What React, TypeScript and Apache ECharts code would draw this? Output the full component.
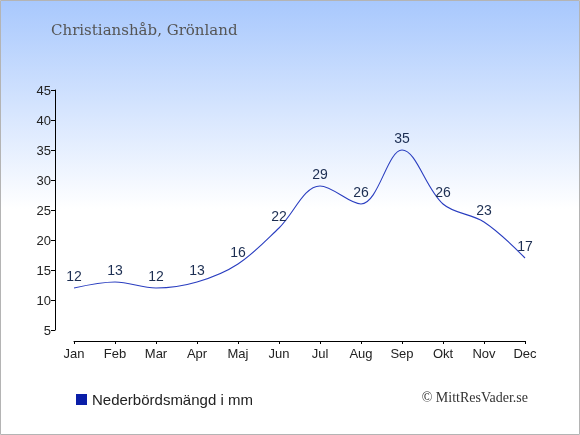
import React, { useEffect, useRef } from "react";
import * as echarts from "echarts";

const months = ["Jan", "Feb", "Mar", "Apr", "Maj", "Jun", "Jul", "Aug", "Sep", "Okt", "Nov", "Dec"];
const precipitation = [12, 13, 12, 13, 16, 22, 29, 26, 35, 26, 23, 17];
const yTicks = [5, 10, 15, 20, 25, 30, 35, 40, 45];
const titleText = "Christianshåb, Grönland";
const seriesName = "Nederbördsmängd i mm";
const copyright = "© MittResVader.se";

export default function App() {
  const ref = useRef<HTMLDivElement>(null);
  useEffect(() => {
    document.body.style.margin = "0";
    const chart = echarts.init(ref.current!, null, { renderer: "svg" });
    chart.setOption({
      animation: false,
      graphic: [
        {
          type: "rect",
          z: -10,
          silent: true,
          shape: { x: 0.5, y: 0.5, width: 579, height: 434 },
          style: {
            fill: new echarts.graphic.LinearGradient(0, 0, 0, 1, [
              { offset: 0, color: "#a8c8fd" },
              { offset: 0.48, color: "#ffffff" },
              { offset: 1, color: "#ffffff" },
            ]),
            stroke: "#b4b4b4",
            lineWidth: 1,
          },
        },
        {
          type: "text",
          left: 51,
          top: 22,
          style: {
            text: titleText,
            font: "15px 'DejaVu Serif'",
            fill: "#555555",
          },
        },
        {
          type: "text",
          right: 52,
          top: 390,
          style: {
            text: copyright,
            font: "14px 'Liberation Serif'",
            fill: "#333333",
          },
        },
      ],
      legend: {
        left: 71,
        top: 387,
        icon: "rect",
        itemWidth: 11,
        itemHeight: 11,
        itemGap: 5,
        textStyle: { fontFamily: "Liberation Sans", fontSize: 15, color: "#222222" },
        data: [{ name: seriesName, itemStyle: { color: "#0a1ea8" } }],
      },
      grid: { left: 74, right: 55, top: 90, bottom: 105 },
      xAxis: {
        type: "category",
        data: months,
        boundaryGap: false,
        offset: 11,
        axisLine: { lineStyle: { color: "#000000", width: 1 } },
        axisTick: { length: 3, lineStyle: { color: "#000000" } },
        axisLabel: { color: "#222222", fontFamily: "Liberation Sans", fontSize: 13, margin: 6 },
        splitLine: { show: false },
      },
      yAxis: {
        type: "value",
        min: yTicks[0],
        max: yTicks[yTicks.length - 1],
        interval: 5,
        offset: 19,
        axisLine: { show: true, lineStyle: { color: "#000000", width: 1 } },
        axisTick: { show: true, length: 4, lineStyle: { color: "#000000" } },
        axisLabel: { color: "#222222", fontFamily: "Liberation Sans", fontSize: 13, margin: 4 },
        splitLine: { show: false },
      },
      series: [
        {
          name: seriesName,
          type: "line",
          data: precipitation,
          smooth: 0.35,
          symbol: "circle",
          symbolSize: 0,
          lineStyle: { color: "#2a3ec0", width: 1.1 },
          itemStyle: { color: "#2a3ec0" },
          label: {
            show: true,
            position: "top",
            distance: 5,
            color: "#1c2e52",
            fontFamily: "Liberation Sans",
            fontSize: 14,
          },
        },
      ],
    });
    return () => chart.dispose();
  }, []);
  return <div ref={ref} style={{ position: "fixed", left: 0, top: 0, width: 580, height: 435 }} />;
}
